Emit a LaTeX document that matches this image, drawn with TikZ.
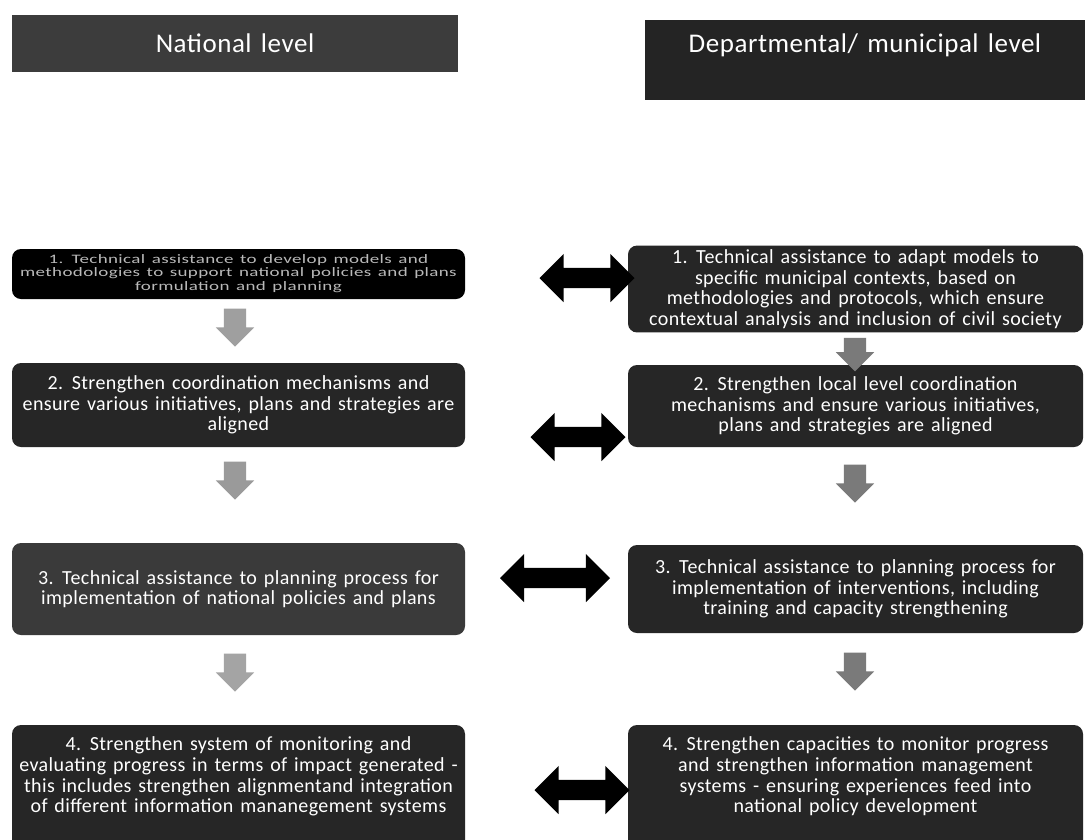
\documentclass[tikz,border=0pt]{standalone}
\usepackage{fontspec}
\usepackage{graphicx}
\setmainfont{Carlito}[WordSpace=1.4, LetterSpace=2]
\usetikzlibrary{shapes.arrows}
\definecolor{boxdark}{HTML}{262626}
\definecolor{boxmid}{HTML}{3A3A3A}
\definecolor{hdrL}{HTML}{3C3C3C}
\definecolor{hdrR}{HTML}{242424}
\definecolor{arrL}{HTML}{9A9A9A}
\definecolor{arrR}{HTML}{7A7A7A}
\tikzset{
  box/.style={draw=none, fill=boxdark, rounded corners=9pt, text=white, align=center,
    font=\fontsize{20}{20.6}\selectfont, inner sep=4pt},
  hdr/.style={draw=none, text=white, font=\fontsize{27}{30}\selectfont, inner sep=0pt},
  downarr/.style={single arrow, rotate=-90, draw=none, fill=arrR,
    minimum width=38pt, minimum height=38pt, single arrow head extend=8pt, inner sep=11pt},
  biarr/.style={double arrow, draw=none, fill=black, minimum height=95pt, minimum width=48pt,
    double arrow head extend=14pt, inner sep=10pt}
}
\begin{document}
\begin{tikzpicture}[x=1pt,y=-1pt]
\clip (0,0) rectangle (1085,839);
\fill[white] (0,0) rectangle (1085,839);
% headers
\node[hdr, fill=hdrL, minimum width=446pt, minimum height=57pt] (hl) at (235,43.5) {National level};
\node[hdr, fill=hdrR, minimum width=440pt, minimum height=80pt] (hr) at (865,60) {};
\node[hdr] (hrt) at (865,45) {Departmental/ municipal level};
% left column
\node[box, fill=black, text=gray!55, minimum width=453pt, minimum height=50pt, inner sep=0pt] (l1) at (238.5,274)
  {\scalebox{1}[0.68]{\fontsize{19}{20}\selectfont\begin{tabular}{@{}c@{}}1. Technical assistance to develop models and\\ methodologies to support national policies and plans\\ formulation and planning\end{tabular}}};
\node[box, minimum width=453pt, minimum height=84pt] (l2) at (238.5,405)
  {2. Strengthen coordination mechanisms and\\ ensure various initiatives, plans and strategies are\\ aligned};
\node[box, fill=boxmid, minimum width=453pt, minimum height=92pt] (l3) at (238.5,589)
  {3. Technical assistance to planning process for\\ implementation of national policies and plans};
\node[box, minimum width=453pt, minimum height=130pt] (l4) at (238.5,790) {};
\node[box, fill=none, anchor=north] (l4t) at ([yshift=-8pt]l4.north)
  {4. Strengthen system of monitoring and\\ evaluating progress in terms of impact generated -\\ this includes strengthen alignmentand integration\\ of different information mananegement systems};
% right column
\node[box, minimum width=455pt, minimum height=82pt] (r1) at (855.5,289)
  {1. Technical assistance to adapt models to\\ specific municipal contexts, based on\\ methodologies and protocols, which ensure\\ contextual analysis and inclusion of civil society};
\node[box, minimum width=455pt, minimum height=82pt] (r2) at (855.5,406)
  {2. Strengthen local level coordination\\ mechanisms and ensure various initiatives,\\ plans and strategies are aligned};
\node[box, minimum width=455pt, minimum height=88pt] (r3) at (855.5,589)
  {3. Technical assistance to planning process for\\ implementation of interventions, including\\ training and capacity strengthening};
\node[box, minimum width=455pt, minimum height=130pt] (r4) at (855.5,790) {};
\node[box, fill=none, anchor=north] (r4t) at ([yshift=-8pt]r4.north)
  {4. Strengthen capacities to monitor progress\\ and strengthen information management\\ systems - ensuring experiences feed into\\ national policy development};
% down arrows
\node[downarr, fill=gray!75] (dl1) at (235,322) {};
\node[downarr, fill=arrL] (dl2) at (235,475) {};
\node[downarr, fill=arrL!90] (dl3) at (235,667) {};
\node[downarr, minimum height=28pt] (dr1) at (855,349) {};
\node[downarr] (dr2) at (855,478) {};
\node[downarr] (dr3) at (855,666) {};
% double arrows
\node[biarr] (a1) at (587,278) {};
\node[biarr] (a2) at (578,437) {};
\node[biarr, minimum height=110pt] (a3) at (555,578) {};
\node[biarr] (a4) at (582,790) {};
\end{tikzpicture}
\end{document}
